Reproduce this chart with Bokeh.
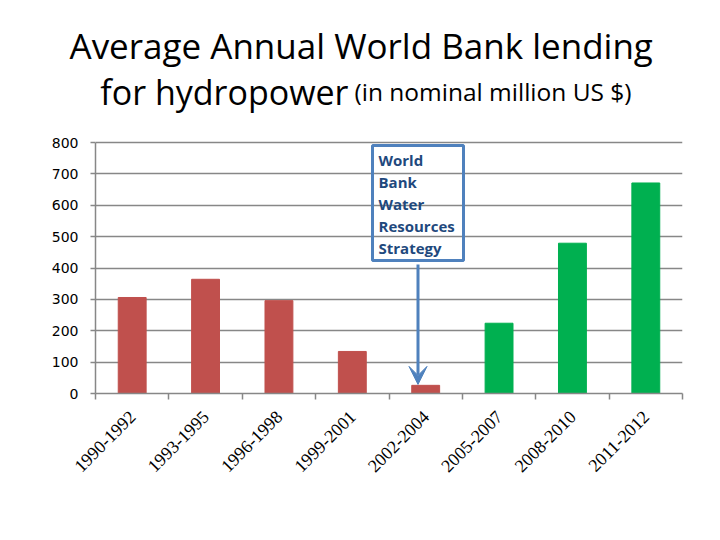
import numpy as np
from bokeh.plotting import figure
from bokeh.models import Range1d, FixedTicker, Label, BoxAnnotation, Arrow, VeeHead, ColumnDataSource
from bokeh.embed import file_html
from bokeh.resources import INLINE

# ---- data ----
periods = ["1990-1992", "1993-1995", "1996-1998", "1999-2001", "2002-2004",
           "2005-2007", "2008-2010", "2011-2012"]
lending = [306, 364, 296, 134, 26, 224, 479, 671]
bar_colors = ["#C0504D"] * 5 + ["#00B050"] * 3
y_ticks = [0, 100, 200, 300, 400, 500, 600, 700, 800]
title_line1 = "Average Annual World Bank lending"
title_line2a = "for hydropower"
title_line2b = "(in nominal million US $)"
note_text = "World\nBank\nWater\nResources\nStrategy"
note_period = "2002-2004"

# ---- layout (page pixels) ----
W, H = 704, 524
F_LEFT, F_RIGHT, F_BOTTOM, F_TOP = 95, 682, 393, 68   # frame edges
Y800_PX = 142                                          # page row of the 800 gridline
n = len(periods)
y_max = 800.0
px_per_unit = (F_BOTTOM - Y800_PX) / y_max
px_per_cat = (F_RIGHT - F_LEFT) / n

def dx(px):
    return (px - F_LEFT) / px_per_cat

def dy(py):
    return (F_BOTTOM - py) / px_per_unit

centers = np.arange(n) + 0.5
bounds = list(np.arange(n + 1).astype(float))

p = figure(width=W, height=H, output_backend="svg", toolbar_location=None,
           x_range=Range1d(0, n), y_range=Range1d(0, dy(F_TOP)),
           min_border_left=F_LEFT, min_border_right=W - F_RIGHT,
           min_border_top=F_TOP, min_border_bottom=H - F_BOTTOM)
p.outline_line_color = None
p.background_fill_color = "white"
p.border_fill_color = "white"

# title line 1 (Title model: not clipped by the frame)
p.title.text = title_line1
p.title.align = "left"
p.title.offset = -26
p.title.standoff = 0
p.title.text_font = "Open Sans"
p.title.text_font_style = "normal"
p.title.text_font_size = "35px"
p.title.text_color = "black"

src = ColumnDataSource(dict(x=centers, top=lending, color=bar_colors, label=periods))
p.vbar(x="x", top="top", width=0.38, color="color", source=src)

grid_col = "#878787"
# y axis
p.yaxis.ticker = FixedTicker(ticks=y_ticks)
p.yaxis.bounds = (0, y_max)
p.yaxis.axis_line_color = grid_col
p.yaxis.axis_line_width = 1.5
p.yaxis.major_tick_line_color = grid_col
p.yaxis.major_tick_line_width = 1.5
p.yaxis.major_tick_out = 5
p.yaxis.major_tick_in = 0
p.yaxis.minor_tick_line_color = None
p.yaxis.major_label_standoff = 12
p.yaxis.major_label_text_font = "DejaVu Sans"
p.yaxis.major_label_text_font_size = "14px"
p.yaxis.major_label_text_color = "black"

# x axis
p.xaxis.ticker = FixedTicker(ticks=list(centers), minor_ticks=bounds)
p.xaxis.major_label_overrides = {float(c): lab for c, lab in zip(centers, periods)}
p.xaxis.axis_line_color = grid_col
p.xaxis.axis_line_width = 1.5
p.xaxis.major_tick_line_color = None
p.xaxis.minor_tick_line_color = grid_col
p.xaxis.minor_tick_line_width = 1.5
p.xaxis.minor_tick_out = 6
p.xaxis.minor_tick_in = 0
p.xaxis.major_label_orientation = np.pi / 4
p.xaxis.major_label_standoff = 14
p.xaxis.major_label_text_font = "Liberation Serif"
p.xaxis.major_label_text_font_size = "18px"
p.xaxis.major_label_text_color = "black"

p.xgrid.grid_line_color = None
p.ygrid.ticker = FixedTicker(ticks=y_ticks)
p.ygrid.grid_line_color = grid_col
p.ygrid.grid_line_width = 1.5

# title line 2 (inside the frame area above the 800 gridline)
p.add_layout(Label(x=dx(348), y=dy(91), text=title_line2a,
                   text_font="Open Sans", text_font_size="34px", text_color="black",
                   text_align="right", text_baseline="alphabetic"))
p.add_layout(Label(x=dx(354), y=dy(91), text=title_line2b,
                   text_font="Open Sans", text_font_size="24.5px", text_color="black",
                   text_align="left", text_baseline="alphabetic"))

# annotation box and arrow
idx = periods.index(note_period)
box_left, box_right = dx(372), dx(463)
box_top, box_bottom = dy(145), dy(260)
p.add_layout(BoxAnnotation(left=box_left, right=box_right, bottom=box_bottom, top=box_top,
                           fill_color=None, line_color="#4F81BD", line_alpha=1.0, line_width=3))
p.add_layout(Label(x=box_left, y=box_top, x_offset=6, y_offset=-4, text=note_text,
                   text_font="Open Sans", text_font_style="bold", text_font_size="15px",
                   text_color="#1F497D", text_align="left", text_baseline="top",
                   text_line_height=1.1))
ax = (box_left + box_right) / 2
p.add_layout(Arrow(x_start=ax, y_start=dy(264), x_end=ax, y_end=lending[idx] + 3,
                   line_color="#4F81BD", line_width=3,
                   end=VeeHead(size=18, fill_color="#4F81BD", line_color="#4F81BD")))

open("out.html", "w").write(file_html(p, INLINE))
